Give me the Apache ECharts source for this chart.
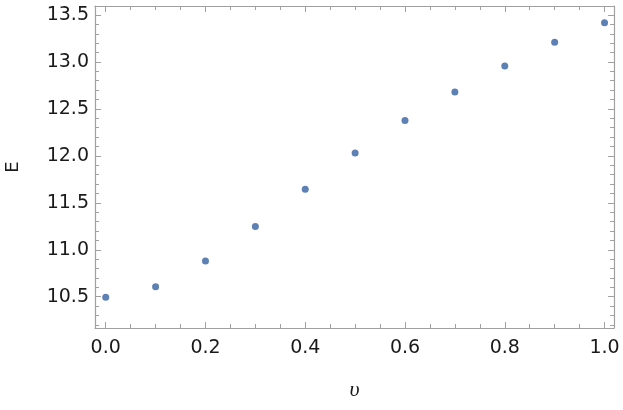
<!DOCTYPE html>
<html>
<head>
<meta charset="utf-8">
<script src="https://cdn.jsdelivr.net/npm/echarts@6/dist/echarts.min.js"></script>
<style>
html,body{margin:0;padding:0;background:#fff;}
#chart{width:623px;height:410px;}
</style>
</head>
<body>
<div id="chart"></div>
<script>
// Data
const xValues = [0.0, 0.1, 0.2, 0.3, 0.4, 0.5, 0.6, 0.7, 0.8, 0.9, 1.0];
const eValues = [10.495, 10.605, 10.88, 11.248, 11.645, 12.03, 12.376, 12.68, 12.957, 13.21, 13.418];

// Ticks
const xTicks = [0.0, 0.2, 0.4, 0.6, 0.8, 1.0];
const xMinorTicks = [0.05, 0.1, 0.15, 0.25, 0.3, 0.35, 0.45, 0.5, 0.55, 0.65, 0.7, 0.75, 0.85, 0.9, 0.95];
const yTicks = [10.5, 11.0, 11.5, 12.0, 12.5, 13.0, 13.5];
const yMinorTicks = [10.2, 10.3, 10.4, 10.6, 10.7, 10.8, 10.9, 11.1, 11.2, 11.3, 11.4, 11.6, 11.7, 11.8, 11.9,
                     12.1, 12.2, 12.3, 12.4, 12.6, 12.7, 12.8, 12.9, 13.1, 13.2, 13.3, 13.4];
const xTickLabels = ['0.0', '0.2', '0.4', '0.6', '0.8', '1.0'];
const yTickLabels = ['10.5', '11.0', '11.5', '12.0', '12.5', '13.0', '13.5'];

const X_MIN = -0.0215, X_MAX = 1.019;
const Y_MIN = 10.167, Y_MAX = 13.596;
const frameColor = '#a0a0a0';
const labelFont = { color: '#1a1a1a', fontFamily: 'DejaVu Sans', fontSize: 19 };

function xAxisDef(pos, ticks, len, show, showLine, name) {
  const a = {
    type: 'value', position: pos, min: X_MIN, max: X_MAX,
    axisLine: { show: showLine, onZero: false, lineStyle: { color: frameColor, width: 1.2 } },
    axisTick: { show: true, inside: true, length: len, customValues: ticks, lineStyle: { color: frameColor, width: 1 } },
    axisLabel: Object.assign({ show: show, margin: 11, customValues: ticks,
      formatter: v => { const i = xTicks.findIndex(t => Math.abs(t - v) < 1e-9); return i >= 0 ? xTickLabels[i] : ''; } }, labelFont),
    splitLine: { show: false }
  };
  if (name) {
    a.name = name; a.nameLocation = 'middle'; a.nameGap = 51;
    a.nameTextStyle = { fontFamily: 'Liberation Serif', fontStyle: 'italic', fontSize: 22, color: '#1a1a1a' };
  }
  return a;
}
function yAxisDef(pos, ticks, len, show, showLine, name) {
  const a = {
    type: 'value', position: pos, min: Y_MIN, max: Y_MAX,
    axisLine: { show: showLine, onZero: false, lineStyle: { color: frameColor, width: 1.2 } },
    axisTick: { show: true, inside: true, length: len, customValues: ticks, lineStyle: { color: frameColor, width: 1 } },
    axisLabel: Object.assign({ show: show, margin: 6, customValues: ticks,
      formatter: v => { const i = yTicks.findIndex(t => Math.abs(t - v) < 1e-9); return i >= 0 ? yTickLabels[i] : ''; } }, labelFont),
    splitLine: { show: false }
  };
  if (name) {
    a.name = name; a.nameLocation = 'middle'; a.nameGap = 73;
    a.nameTextStyle = { fontFamily: 'DejaVu Sans', fontSize: 18, color: '#1a1a1a' };
  }
  return a;
}

const chart = echarts.init(document.getElementById('chart'), null, { renderer: 'canvas' });
chart.setOption({
  animation: false,
  backgroundColor: '#ffffff',
  grid: { left: 95, right: 9, top: 6, bottom: 82, containLabel: false, outerBoundsMode: 'none' },
  xAxis: [
    xAxisDef('bottom', xTicks, 6, true, true, 'υ'),
    xAxisDef('bottom', xMinorTicks, 4, false, false),
    xAxisDef('top', xTicks, 6, false, true),
    xAxisDef('top', xMinorTicks, 4, false, false)
  ],
  yAxis: [
    yAxisDef('left', yTicks, 6, true, true, 'E'),
    yAxisDef('left', yMinorTicks, 4, false, false),
    yAxisDef('right', yTicks, 6, false, true),
    yAxisDef('right', yMinorTicks, 4, false, false)
  ],
  series: [{
    type: 'scatter',
    xAxisIndex: 0, yAxisIndex: 0,
    symbol: 'circle', symbolSize: 7,
    itemStyle: { color: '#5e81b5', opacity: 1 },
    data: xValues.map((x, i) => [x, eValues[i]])
  }]
});
</script>
</body>
</html>
